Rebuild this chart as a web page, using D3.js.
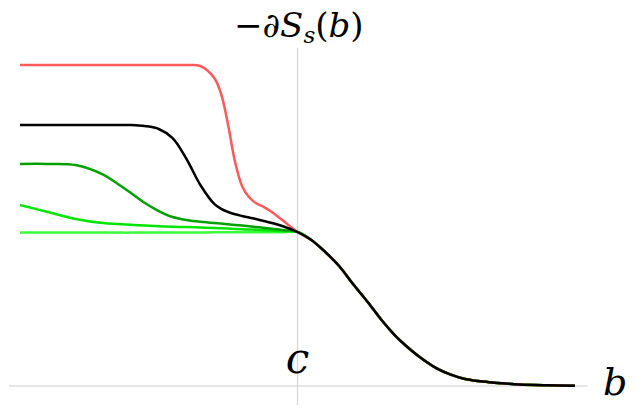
<!DOCTYPE html>
<html>
<head>
<meta charset="utf-8">
<script src="https://cdn.jsdelivr.net/npm/d3@7"></script>
<style>
  body { margin: 0; background: #fff; }
  svg { display: block; }
</style>
</head>
<body>
<div id="plot"></div>
<script>
// Width and height
const w = 639;
const h = 413;
const serif = "'DejaVu Serif', serif";

// b values (c sits at 0)
const bLeft = [-10, -9, -8, -7, -6.5, -6, -5.5, -5, -4.5, -4, -3.5, -3, -2.75, -2.5, -2.25, -2, -1.75, -1.5, -1.25, -1, -0.5, 0];
const bRight = [0, 0.5, 1, 1.5, 2, 2.5, 3, 3.5, 4, 4.5, 5, 5.5, 6, 6.5, 7, 7.5, 8, 9, 10];

// left parts of each curve
const redLeft   = [20.84, 20.84, 20.84, 20.84, 20.84, 20.84, 20.84, 20.84, 20.84, 20.84, 20.78, 20.0, 18.96, 16.95, 14.55, 12.99, 12.27, 11.88, 11.66, 11.40, 10.71, 10];
const blackLeft = [16.95, 16.95, 16.95, 16.95, 16.95, 16.95, 16.88, 16.69, 16.10, 14.74, 13.05, 11.82, 11.50, 11.30, 11.15, 11.04, 10.94, 10.84, 10.73, 10.62, 10.36, 10];
const dgreenLeft = [14.42, 14.42, 14.35, 13.73, 13.15, 12.53, 11.88, 11.36, 10.97, 10.78, 10.66, 10.58, 10.55, 10.50, 10.46, 10.42, 10.38, 10.33, 10.28, 10.23, 10.12, 10];
const greenLeft = [11.75, 11.30, 10.84, 10.58, 10.52, 10.47, 10.42, 10.37, 10.34, 10.32, 10.29, 10.26, 10.24, 10.22, 10.20, 10.18, 10.16, 10.14, 10.12, 10.10, 10.05, 10];
const lgreenLeft = [9.96, 9.96, 9.96, 9.96, 9.96, 9.96, 9.97, 9.97, 9.97, 9.97, 9.97, 9.98, 9.98, 9.98, 9.98, 9.98, 9.99, 9.99, 9.99, 9.99, 9.99, 10];

// common right part
const commonRight = [10, 9.48, 8.70, 7.79, 6.62, 5.52, 4.35, 3.31, 2.47, 1.75, 1.16, 0.75, 0.47, 0.32, 0.23, 0.16, 0.10, 0.05, 0.02];

const seriesNames = ["lightgreen", "green", "darkgreen", "red", "black"];
const seriesLeft = [lgreenLeft, greenLeft, dgreenLeft, redLeft, blackLeft];
const seriesColors = ["#3cff3c", "#00e600", "#00a000", "#ff5a5a", "#000000"];

// axis extents
const bAxis = [-10.4, 10.45];
const vAxis = [-1.25, 21.95];

// create SVG element
const svg = d3.select("div#plot")
  .append("svg")
    .attr("width", w)
    .attr("height", h);

svg.append("rect")
  .attr("width", w)
  .attr("height", h)
  .attr("fill", "#ffffff");

// scales
const xScale = d3.scaleLinear()
  .domain([-10, 10])
  .range([20, 575]);

const yScale = d3.scaleLinear()
  .domain([0, 10])
  .range([386, 232]);

// axes
svg.append("line")
  .attr("x1", xScale(bAxis[0]))
  .attr("x2", xScale(bAxis[1]))
  .attr("y1", yScale(0))
  .attr("y2", yScale(0))
  .attr("stroke", "#cfcfcf")
  .attr("stroke-width", 1.2);

svg.append("line")
  .attr("x1", xScale(0))
  .attr("x2", xScale(0))
  .attr("y1", yScale(vAxis[0]))
  .attr("y2", yScale(vAxis[1]))
  .attr("stroke", "#d6d6d6")
  .attr("stroke-width", 1.2);

const line = d3.line()
  .x(d => xScale(d.b))
  .y(d => yScale(d.v))
  .curve(d3.curveCatmullRom.alpha(0.5));

// curves
seriesNames.forEach((name, i) => {
  const pts = bLeft.map((b, j) => ({b: b, v: seriesLeft[i][j]}))
    .concat(bRight.slice(1).map((b, j) => ({b: b, v: commonRight[j + 1]})));
  svg.append("path")
    .datum(pts)
    .attr("class", name)
    .attr("fill", "none")
    .attr("stroke", seriesColors[i])
    .attr("stroke-width", 2.5)
    .attr("stroke-linejoin", "round")
    .attr("d", line);
});

// y label
const ylab = svg.append("text")
  .attr("x", 234)
  .attr("y", 37)
  .attr("font-family", serif)
  .attr("font-size", "34px");
ylab.append("tspan").text("\u2212\u2202");
ylab.append("tspan").attr("font-style", "italic").text("S");
ylab.append("tspan").attr("font-style", "italic").attr("font-size", "23px").attr("dy", 6).text("s");
ylab.append("tspan").attr("dy", -6).text("(");
ylab.append("tspan").attr("font-style", "italic").text("b");
ylab.append("tspan").text(")");

// c label
svg.append("text")
  .attr("x", xScale(0))
  .attr("y", 373)
  .attr("text-anchor", "middle")
  .attr("font-family", serif)
  .attr("font-style", "italic")
  .attr("font-size", "42px")
  .text("c");

// x label
svg.append("text")
  .attr("x", 603)
  .attr("y", 395)
  .attr("font-family", serif)
  .attr("font-style", "italic")
  .attr("font-size", "38px")
  .text("b");
</script>
</body>
</html>
